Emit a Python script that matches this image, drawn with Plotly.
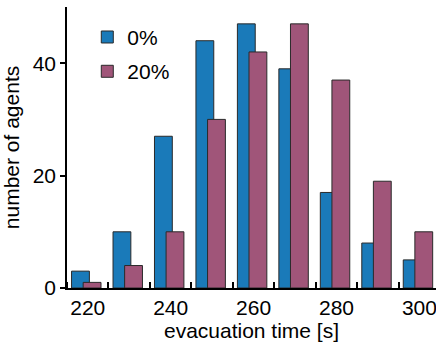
import plotly.graph_objects as go

# evacuation-time histogram bins (seconds)
bins = [220, 230, 240, 250, 260, 270, 280, 290, 300]
agents_0pct = [3, 10, 27, 44, 47, 39, 17, 8, 5]
agents_20pct = [1, 4, 10, 30, 42, 47, 37, 19, 10]
series_names = ["0%", "20%"]
x_tick_labels = ["220", "240", "260", "280", "300"]
y_tick_labels = ["0", "20", "40"]

blue = "#1a7ab9"
purple = "#a05579"
edge = "#2a2a2a"
font_family = "Liberation Sans, Arial, Helvetica, sans-serif"
fs = 21

fig = go.Figure()
fig.add_trace(go.Bar(
    x=bins, y=agents_0pct, name=series_names[0],
    width=4.3, offset=-3.9,
    marker=dict(color=blue, line=dict(color=edge, width=1)),
    legendgroup="a",
))
fig.add_trace(go.Bar(
    x=bins, y=agents_20pct, name=series_names[1],
    width=4.3, offset=-1.1,
    marker=dict(color=purple, line=dict(color=edge, width=1)),
    legendgroup="b",
))

fig.update_layout(
    width=436, height=345,
    margin=dict(l=67, r=0, t=7, b=57),
    barmode="overlay",
    plot_bgcolor="white", paper_bgcolor="white",
    font=dict(family=font_family, size=fs, color="black"),
    showlegend=True,
    legend=dict(
        x=0.055, y=0.965, xanchor="left", yanchor="top",
        bgcolor="rgba(0,0,0,0)", font=dict(size=fs),
        tracegroupgap=4, itemwidth=30,
    ),
    xaxis=dict(
        range=[215, 304],
        tickmode="array",
        tickvals=[int(t) for t in x_tick_labels],
        ticktext=x_tick_labels,
        ticks="",
        ticklabeloverflow="allow",
        showline=True, linecolor="black", linewidth=1.5,
        showgrid=False, zeroline=False,
        minor=dict(tickmode="array",
                   tickvals=[b - 5 for b in bins] + [bins[-1] + 5],
                   ticks="inside", ticklen=6, tickcolor="black", tickwidth=1.5),
        title=dict(text="evacuation time [s]", standoff=5, font=dict(size=fs)),
    ),
    yaxis=dict(
        range=[0, 50],
        tickmode="array",
        tickvals=[int(t) for t in y_tick_labels],
        ticktext=y_tick_labels,
        ticks="outside", ticklen=5, tickwidth=1.5, tickcolor="black",
        showline=True, linecolor="black", linewidth=1.5,
        showgrid=False, zeroline=False,
        title=dict(text="number of agents", standoff=8, font=dict(size=fs)),
    ),
)

fig.write_html("out.html")
